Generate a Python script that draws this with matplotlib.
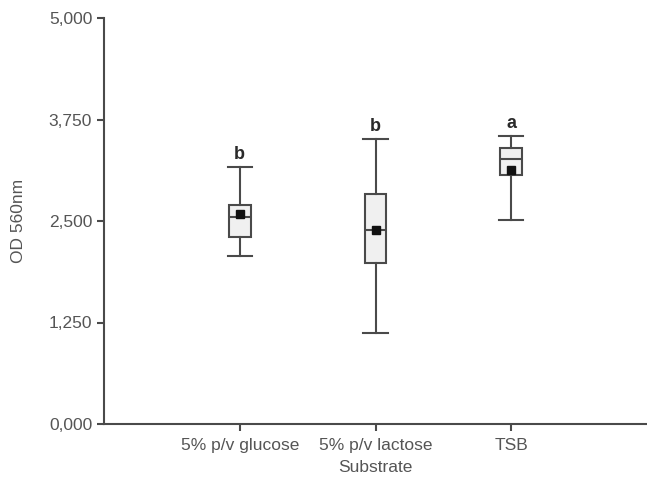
import numpy as np
import matplotlib
matplotlib.use("Agg")
import matplotlib.pyplot as plt
from matplotlib.ticker import FuncFormatter

# values (OD 560nm)
categories = ["5% p/v glucose", "5% p/v lactose", "TSB"]
whislo = [2.07, 1.12, 2.51]
q1 = [2.30, 1.98, 3.07]
medians = [2.55, 2.39, 3.26]
q3 = [2.70, 2.83, 3.40]
whishi = [3.165, 3.51, 3.55]
means = [2.59, 2.39, 3.13]
letters = ["b", "b", "a"]

yticks = [0, 1.25, 2.5, 3.75, 5.0]

plt.rcParams['font.family'] = ['Liberation Sans', 'DejaVu Sans']
line_col = "#4a4a4a"
text_col = "#555555"

fig = plt.figure(figsize=(6.47, 4.84), dpi=100)
ax = fig.add_axes([104 / 647, 60 / 484, 543 / 647, 406 / 484])

stats = []
for i in range(len(categories)):
    stats.append(dict(med=medians[i], q1=q1[i], q3=q3[i],
                      whislo=whislo[i], whishi=whishi[i], mean=means[i]))

pos = np.arange(1, len(categories) + 1)
ax.bxp(stats, positions=pos, widths=0.16, patch_artist=True, showmeans=True,
       showfliers=False,
       boxprops=dict(facecolor="#f0f0f0", edgecolor=line_col, linewidth=1.5),
       whiskerprops=dict(color=line_col, linewidth=1.5),
       capprops=dict(color=line_col, linewidth=1.5),
       medianprops=dict(color=line_col, linewidth=1.5),
       meanprops=dict(marker="s", markerfacecolor="#111111",
                      markeredgecolor="#111111", markersize=6),
       capwidths=0.18)

# significance letters above the upper caps
for x, top, lab in zip(pos, whishi, letters):
    ax.text(x, top + 0.05, lab, ha="center", va="bottom", fontsize=13,
            color="#2a2a2a", fontweight="semibold")

ax.set_xlim(0, 4)
ax.set_ylim(0, 5)
ax.set_xticks(pos)
ax.set_xticklabels(categories)
ax.set_yticks(yticks)
ax.yaxis.set_major_formatter(FuncFormatter(lambda v, p: f"{v:,.3f}".replace(".", ",")))

for s in ["top", "right"]:
    ax.spines[s].set_visible(False)
for s in ["left", "bottom"]:
    ax.spines[s].set_color(line_col)
    ax.spines[s].set_linewidth(1.5)

ax.tick_params(axis="both", colors=line_col, labelcolor=text_col,
               labelsize=12.5, width=1.5, length=5)
ax.tick_params(axis="x", pad=5)

ax.set_xlabel("Substrate", fontsize=12.5, color=text_col, labelpad=5)
ax.set_ylabel("OD 560nm", fontsize=12.5, color=text_col, labelpad=16)

fig.savefig("out.png", dpi=100)
